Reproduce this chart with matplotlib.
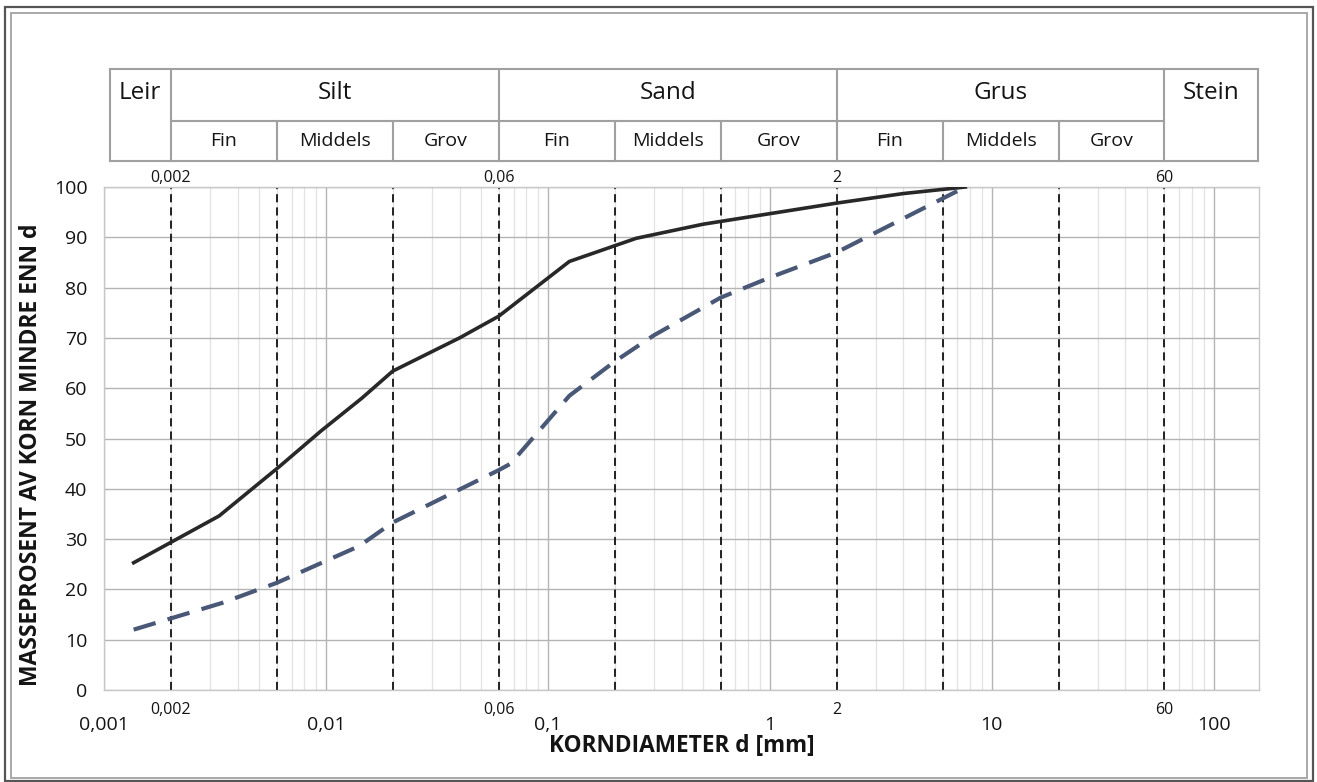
import matplotlib
matplotlib.use("Agg")
import matplotlib.pyplot as plt
import matplotlib.transforms as mtransforms
from matplotlib.patches import Rectangle
from matplotlib.ticker import FixedLocator, NullFormatter

plt.rcParams['font.family'] = ['Open Sans', 'DejaVu Sans']

# Grain size distribution curves (diameter in mm, percent passing)
solid_d = [0.00136, 0.0033, 0.0062, 0.0095, 0.0145, 0.02, 0.04, 0.06, 0.125,
           0.25, 0.5, 1.0, 2.0, 4.0, 7.6]
solid_p = [25.3, 34.6, 44.5, 51.5, 58.0, 63.4, 70.0, 74.3, 85.2,
           89.8, 92.6, 94.7, 96.8, 98.7, 100.0]

dashed_d = [0.00136, 0.0034, 0.006, 0.0141, 0.02, 0.06, 0.068, 0.125, 0.2,
            0.3, 0.6, 1.0, 2.0, 7.6]
dashed_p = [12.0, 17.3, 21.3, 28.6, 33.3, 43.7, 45.0, 58.5, 65.3,
            70.5, 78.0, 82.0, 87.0, 100.0]

# Fraction limits (mm) and their labels
limits = [0.002, 0.006, 0.02, 0.06, 0.2, 0.6, 2, 6, 20, 60]
labelled_limits = [0.002, 0.06, 2, 60]
labelled_limit_text = ['0,002', '0,06', '2', '60']

# Axis ticks
x_ticks = [0.001, 0.01, 0.1, 1, 10, 100]
x_tick_labels = ['0,001', '0,01', '0,1', '1', '10', '100']
y_ticks = list(range(0, 101, 10))

# Header table of soil fractions
main_classes = ['Leir', 'Silt', 'Sand', 'Grus', 'Stein']
sub_classes = ['Fin', 'Middels', 'Grov']

TXT = '#141414'
W, H = 1317, 782
fig = plt.figure(figsize=(W / 100, H / 100), dpi=100)
fig.patch.set_facecolor('white')

# outer double frame
fig.patches.append(Rectangle((5 / W, 1 - 781 / H), 1308 / W, 774 / H,
                             transform=fig.transFigure, fill=False,
                             edgecolor='#555555', lw=1.6))
fig.patches.append(Rectangle((11 / W, 1 - 778 / H), 1296 / W, 765 / H,
                             transform=fig.transFigure, fill=False,
                             edgecolor='#a8a8a8', lw=1.4))

ax = fig.add_axes([104 / W, 1 - 690 / H, (1259 - 104) / W, (690 - 187) / H])
ax.set_xscale('log')
ax.set_xlim(0.001, 160)
ax.set_ylim(0, 100)

# grid
minor = [m * 10.0 ** e for e in range(-3, 3) for m in range(2, 10)]
ax.xaxis.set_minor_locator(FixedLocator(minor))
ax.xaxis.set_minor_formatter(NullFormatter())
ax.set_xticks(x_ticks)
ax.set_xticklabels(x_tick_labels)
ax.set_yticks(y_ticks)
ax.grid(which='major', axis='both', color='#b4b4b4', lw=1.0)
ax.grid(which='minor', axis='x', color='#e2e2e2', lw=0.9)
ax.set_axisbelow(True)
for s in ax.spines.values():
    s.set_color('#c8c8c8')
    s.set_linewidth(1.0)
ax.tick_params(which='both', length=0)
ax.tick_params(axis='x', labelsize=14, pad=19, colors=TXT)
ax.tick_params(axis='y', labelsize=14, pad=12, colors=TXT)

# fraction limit lines
for d in limits:
    ax.axvline(d, color='#111111', lw=1.3, ls=(0, (4.5, 2.8)), zorder=2)

# curves
ax.plot(solid_d, solid_p, color='#282828', lw=2.6, zorder=4)
ax.plot(dashed_d, dashed_p, color='#4a5877', lw=3.0, ls=(0, (5.5, 3.0)),
        zorder=4)

# limit labels above and below the plot area
tr = mtransforms.blended_transform_factory(ax.transData, ax.transAxes)
for d, t in zip(labelled_limits, labelled_limit_text):
    ax.text(d, 1.001, t, transform=tr, ha='center', va='bottom',
            fontsize=11.5, color=TXT)
    ax.text(d, -0.024, t, transform=tr, ha='center', va='top',
            fontsize=11.5, color=TXT)

ax.set_xlabel('KORNDIAMETER d [mm]', fontsize=16.3, fontweight='bold',
              color=TXT, labelpad=0)
ax.set_ylabel('MASSEPROSENT AV KORN MINDRE ENN d', fontsize=16.5,
              fontweight='bold', color=TXT, labelpad=6)
ax.yaxis.set_label_coords(-0.053, 0.468)

# header table
y_top, y_mid, y_bot = (690 - 69) / 503, (690 - 121) / 503, (690 - 161) / 503
x_left, x_right = 0.00106, 159
line_kw = dict(transform=tr, color='#a0a0a0', lw=1.5, clip_on=False)
ax.plot([x_left, x_right], [y_top, y_top], **line_kw)
ax.plot([x_left, x_right], [y_bot, y_bot], **line_kw)
ax.plot([limits[0], limits[-1]], [y_mid, y_mid], **line_kw)
for x in [x_left, x_right, limits[0], limits[3], limits[6], limits[-1]]:
    ax.plot([x, x], [y_bot, y_top], **line_kw)
for x in [limits[1], limits[2], limits[4], limits[5], limits[7], limits[8]]:
    ax.plot([x, x], [y_bot, y_mid], **line_kw)

bounds = [x_left, limits[0], limits[3], limits[6], limits[-1], x_right]
for i, name in enumerate(main_classes):
    xc = (bounds[i] * bounds[i + 1]) ** 0.5
    ax.text(xc, (y_top + y_mid) / 2 + 0.004, name, transform=tr, ha='center',
            va='center', fontsize=17.5, color=TXT)
for g in range(3):
    edges = limits[3 * g:3 * g + 4]
    for j, name in enumerate(sub_classes):
        xc = (edges[j] * edges[j + 1]) ** 0.5
        ax.text(xc, (y_mid + y_bot) / 2, name, transform=tr, ha='center',
                va='center', fontsize=14, color=TXT)

fig.savefig('out.png', dpi=100)
